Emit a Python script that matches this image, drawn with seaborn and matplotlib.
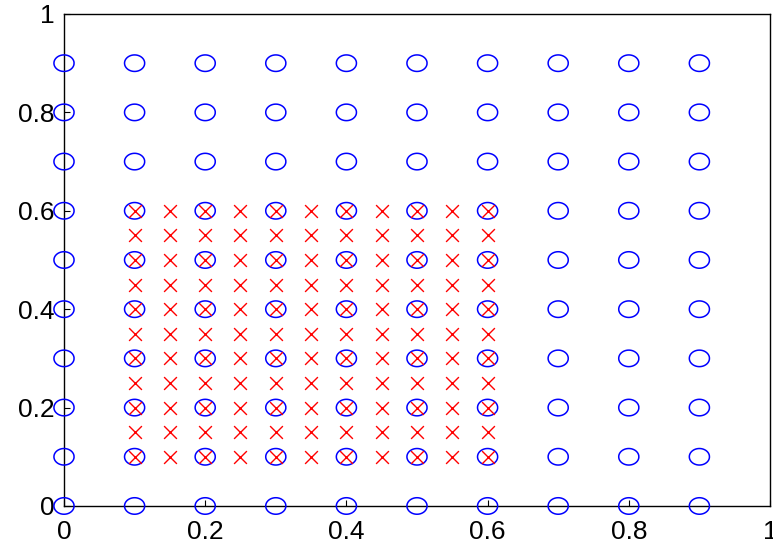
import numpy as np
import pandas as pd
import matplotlib
matplotlib.use("Agg")
import matplotlib.pyplot as plt
from matplotlib.path import Path
import seaborn as sns

# Coarse grid (blue circles)
circle_x_vals = [0.0, 0.1, 0.2, 0.3, 0.4, 0.5, 0.6, 0.7, 0.8, 0.9]
circle_y_vals = [0.0, 0.1, 0.2, 0.3, 0.4, 0.5, 0.6, 0.7, 0.8, 0.9]
# Fine grid (red crosses)
cross_x_vals = [0.10, 0.15, 0.20, 0.25, 0.30, 0.35, 0.40, 0.45, 0.50, 0.55, 0.60]
cross_y_vals = [0.10, 0.15, 0.20, 0.25, 0.30, 0.35, 0.40, 0.45, 0.50, 0.55, 0.60]
tick_vals = [0, 0.2, 0.4, 0.6, 0.8, 1]
tick_labels = ["0", "0.2", "0.4", "0.6", "0.8", "1"]

cx, cy = np.meshgrid(circle_x_vals, circle_y_vals)
circles = pd.DataFrame({"x": cx.ravel(), "y": cy.ravel()})
fx, fy = np.meshgrid(cross_x_vals, cross_y_vals)
crosses = pd.DataFrame({"x": fx.ravel(), "y": fy.ravel()})

sns.set_style("white")
plt.rcParams["font.family"] = ["Liberation Sans", "DejaVu Sans"]
plt.rcParams["text.color"] = "black"
plt.rcParams["xtick.color"] = "black"
plt.rcParams["ytick.color"] = "black"

fig = plt.figure(figsize=(7.73, 5.46), dpi=100)
ax = fig.add_axes([0.0828, 0.0733, 0.9133, 0.9011])

# elliptical open marker (wider than tall)
t = np.linspace(0, 2 * np.pi, 65)
ellipse = Path(np.column_stack([np.cos(t) * 1.0, np.sin(t) * 0.82]), closed=False)

sns.scatterplot(data=circles, x="x", y="y", marker=ellipse, s=14.5**2,
                color="blue", linewidth=1.1, ax=ax, zorder=3, clip_on=False)
coll = ax.collections[-1]
coll.set_facecolor("none")
coll.set_edgecolor("#0000ff")

sns.scatterplot(data=crosses, x="x", y="y", marker="x", s=9.2**2,
                color="#ff0000", linewidth=1.0, ax=ax, zorder=4, clip_on=False)

ax.set_xlim(0, 1)
ax.set_ylim(0, 1)
ax.set_xticks(tick_vals)
ax.set_xticklabels(tick_labels)
ax.set_yticks(tick_vals)
ax.set_yticklabels(tick_labels)
ax.set_xlabel("")
ax.set_ylabel("")
ax.tick_params(direction="in", length=4, width=0.8, labelsize=19,
               top=False, right=False, left=True, bottom=True,
               color="black", labelcolor="black")
ax.tick_params(axis="y", pad=7)
ax.tick_params(axis="x", pad=10)
for sp in ax.spines.values():
    sp.set_visible(True)
    sp.set_color("black")
    sp.set_linewidth(1.0)
    sp.set_zorder(2)

fig.savefig("out.png", dpi=100, facecolor="white")
